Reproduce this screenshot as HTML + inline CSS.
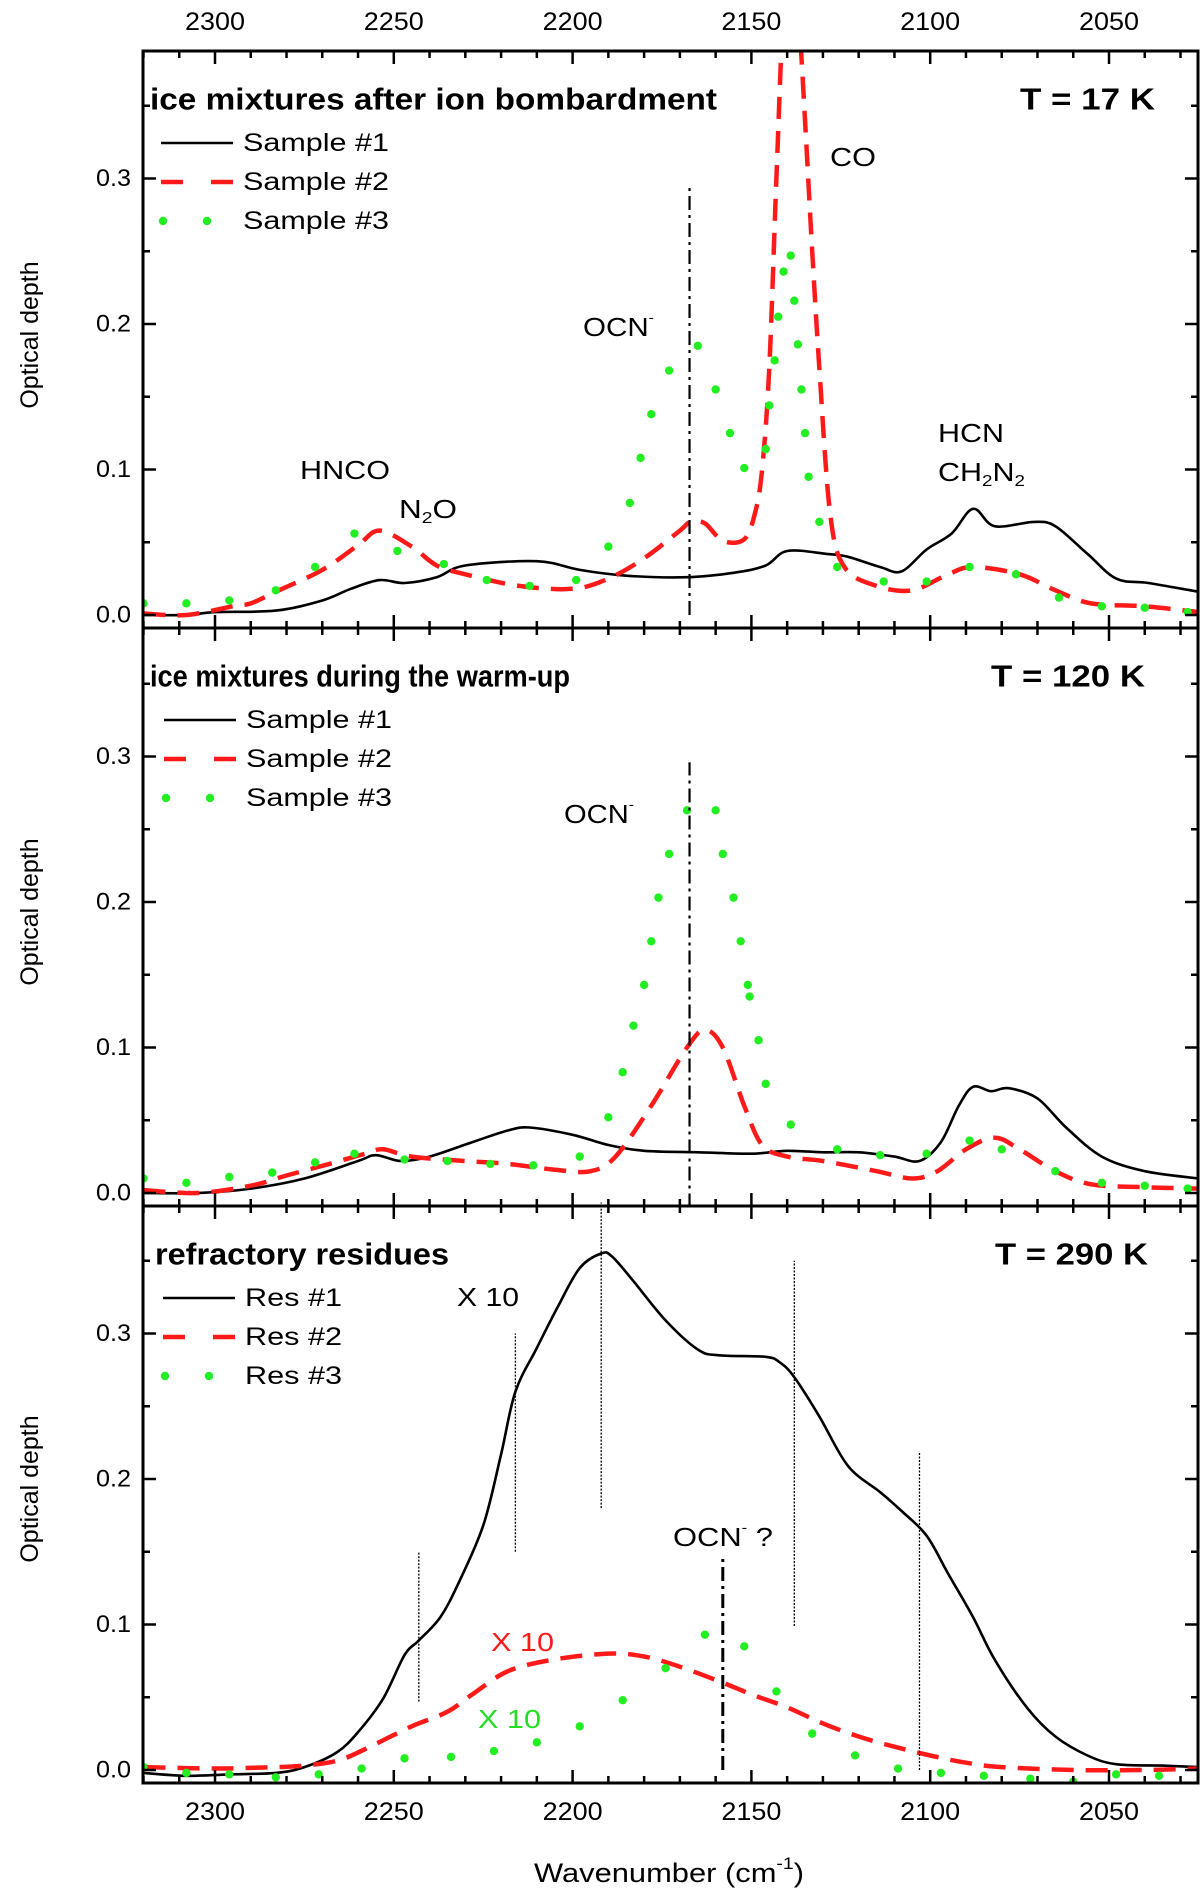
<!DOCTYPE html>
<html><head><meta charset="utf-8"><style>
html,body{margin:0;padding:0;background:#fff;}
svg{display:block;font-family:"Liberation Sans",Arial,sans-serif;}
</style></head><body>
<svg id="chart" width="1200" height="1891" viewBox="0 0 1200 1891" xmlns="http://www.w3.org/2000/svg"></svg>
<script>
// ---------- data ----------
const xTicks = [2300, 2250, 2200, 2150, 2100, 2050];
const yTicks = [0.0, 0.1, 0.2, 0.3];
const panelTitles = ["ice mixtures after ion bombardment", "ice mixtures during the warm-up", "refractory residues"];
const panelTemps = ["T = 17 K", "T = 120 K", "T = 290 K"];
const legendLabels1 = ["Sample #1", "Sample #2", "Sample #3"];
const legendLabels3 = ["Res #1", "Res #2", "Res #3"];

// Panel 1
const p1s1W = [2320,2308,2300,2283,2270,2262,2254,2247,2238,2230,2210,2198,2185,2168,2155,2146,2140,2129,2123,2114,2108,2101,2094,2088,2082,2071,2065,2056,2048,2039,2025];
const p1s1V = [0.0,0.0,0.002,0.003,0.01,0.018,0.024,0.022,0.026,0.034,0.037,0.031,0.027,0.026,0.029,0.034,0.044,0.042,0.040,0.033,0.030,0.045,0.056,0.073,0.061,0.064,0.061,0.042,0.025,0.022,0.016];
const p1s2W = [2320,2308,2295,2290,2283,2270,2260,2254,2245,2238,2230,2215,2200,2190,2180,2170,2167,2163,2158,2152,2149,2147,2145,2143,2141,2139,2137,2135,2133,2131,2128,2124,2115,2105,2095,2088,2075,2065,2055,2040,2025];
const p1s2V = [0.001,0.0,0.006,0.008,0.016,0.031,0.048,0.058,0.047,0.034,0.028,0.020,0.018,0.025,0.039,0.058,0.064,0.063,0.051,0.052,0.07,0.10,0.17,0.30,0.42,0.46,0.42,0.34,0.25,0.17,0.07,0.033,0.020,0.017,0.028,0.033,0.028,0.017,0.008,0.006,0.002];
const p1s3W = [2320,2308,2296,2283,2272,2261,2249,2236,2224,2212,2199,2190,2184,2181,2178,2173,2165,2160,2156,2152,2146,2145,2143.5,2142.5,2141,2139,2138,2137,2136,2135,2134,2131,2126,2113,2101,2089,2076,2064,2052,2040,2028];
const p1s3V = [0.008,0.008,0.010,0.017,0.033,0.056,0.044,0.035,0.024,0.020,0.024,0.047,0.077,0.108,0.138,0.168,0.185,0.155,0.125,0.101,0.114,0.144,0.175,0.205,0.236,0.247,0.216,0.186,0.155,0.125,0.095,0.064,0.033,0.023,0.023,0.033,0.028,0.012,0.006,0.005,0.002];

// Panel 2
const p2s1W = [2320,2305,2290,2275,2260,2255,2248,2240,2228,2218,2212,2200,2190,2180,2165,2150,2140,2130,2120,2110,2103,2097,2092,2088,2083,2078,2070,2062,2052,2040,2025];
const p2s1V = [0.0,0.0,0.003,0.01,0.022,0.026,0.022,0.025,0.035,0.043,0.045,0.040,0.033,0.029,0.028,0.027,0.029,0.028,0.028,0.025,0.022,0.035,0.060,0.073,0.070,0.072,0.065,0.045,0.025,0.015,0.010];
const p2s2W = [2320,2305,2290,2280,2268,2258,2253,2245,2230,2218,2205,2195,2188,2178,2168,2163,2158,2152,2147,2140,2130,2115,2105,2098,2090,2082,2075,2065,2055,2040,2025];
const p2s2V = [0.002,0.0,0.005,0.012,0.020,0.027,0.030,0.025,0.022,0.020,0.016,0.015,0.025,0.060,0.100,0.112,0.100,0.060,0.033,0.025,0.022,0.015,0.010,0.015,0.030,0.038,0.030,0.015,0.006,0.004,0.003];
const p2s3W = [2320,2308,2296,2284,2272,2261,2247,2235,2223,2211,2198,2190,2186,2183,2180,2178,2176,2173,2168,2160,2158,2155,2153,2151,2150.5,2148,2146,2139,2126,2114,2101,2089,2080,2065,2052,2040,2028];
const p2s3V = [0.010,0.007,0.011,0.014,0.021,0.027,0.023,0.022,0.020,0.019,0.025,0.052,0.083,0.115,0.143,0.173,0.203,0.233,0.263,0.263,0.233,0.203,0.173,0.143,0.135,0.105,0.075,0.047,0.030,0.026,0.027,0.036,0.030,0.015,0.007,0.005,0.003];

// Panel 3
const p3s1W = [2320,2308,2296,2283,2275,2266,2260,2253,2247,2243,2237,2232,2225,2220,2216,2210,2204,2198,2192,2189,2183,2174,2165,2159,2146,2142,2138,2131,2123,2114,2108,2101,2095,2088,2082,2073,2065,2056,2048,2035,2025];
const p3s1V = [-0.002,-0.004,-0.003,-0.002,0.002,0.012,0.026,0.049,0.079,0.089,0.105,0.128,0.168,0.217,0.26,0.29,0.319,0.345,0.355,0.353,0.336,0.309,0.289,0.285,0.284,0.28,0.27,0.243,0.209,0.191,0.178,0.161,0.135,0.105,0.076,0.043,0.023,0.010,0.004,0.003,0.002];
const p3s2W = [2320,2300,2283,2275,2265,2255,2245,2235,2228,2218,2205,2190,2180,2170,2158,2150,2140,2130,2120,2110,2100,2090,2080,2060,2040,2025];
const p3s2V = [0.002,0.001,0.002,0.003,0.007,0.018,0.030,0.040,0.052,0.068,0.076,0.080,0.078,0.071,0.060,0.052,0.043,0.032,0.023,0.016,0.010,0.005,0.002,0.0,0.0,0.001];
const p3s3W = [2320,2308,2296,2283,2271,2259,2247,2234,2222,2210,2198,2186,2174,2163,2152,2143,2133,2121,2109,2097,2085,2072,2060,2048,2036];
const p3s3V = [0.002,-0.002,-0.003,-0.005,-0.003,0.001,0.008,0.009,0.013,0.019,0.030,0.048,0.070,0.093,0.085,0.054,0.025,0.010,0.001,-0.002,-0.004,-0.006,-0.008,-0.003,-0.004];

// reference markers
const ocnW = [2167.3, 2167.3, 2158];
const ocnTop = [0.296, 0.296, 0.148];
const dotLineW = [2243, 2216, 2192, 2138, 2103];
const dotLineLo = [0.047, 0.15, 0.18, 0.099, 0.0];
const dotLineHi = [0.15, 0.30, 0.39, 0.35, 0.219];

// ---------- layout ----------
const NS = "http://www.w3.org/2000/svg";
const svg = document.getElementById("chart");
const L = 143, R = 1198;
const panelTop = [51, 628, 1206];
const panelBot = [628, 1206, 1783];
const PXV = 1455;
function xs(w){ return 215 + (2300 - w) * 3.576; }
function ys(v, p){ return (panelBot[p] - 13) - v * PXV; }
function mk(tag, attrs, parent){
  const e = document.createElementNS(NS, tag);
  for (const k in attrs) e.setAttribute(k, attrs[k]);
  (parent || svg).appendChild(e);
  return e;
}
function txt(str, x, y, size, opts, parent){
  const o = opts || {};
  const e = mk("text", {x:x, y:y, "font-size":size, "dominant-baseline":"central", fill:o.fill||"#000"}, parent);
  if (o.anchor) e.setAttribute("text-anchor", o.anchor);
  if (o.bold) e.setAttribute("font-weight", "bold");
  if (o.len) { e.setAttribute("textLength", o.len); e.setAttribute("lengthAdjust", "spacingAndGlyphs"); }
  e.textContent = str;
  return e;
}

const defs = mk("defs", {});
for (let p = 0; p < 3; p++) {
  const cp = mk("clipPath", {id:"clip" + p}, defs);
  mk("rect", {x:L, y:panelTop[p], width:R-L, height:panelBot[p]-panelTop[p]}, cp);
}

function smoothPath(pts){
  let d = "M" + pts[0][0].toFixed(1) + "," + pts[0][1].toFixed(1);
  for (let i = 0; i < pts.length - 1; i++) {
    const p0 = pts[i-1] || pts[i], p1 = pts[i], p2 = pts[i+1], p3 = pts[i+2] || p2;
    const t = 6;
    const c1 = [p1[0] + (p2[0]-p0[0])/t, p1[1] + (p2[1]-p0[1])/t];
    const c2 = [p2[0] - (p3[0]-p1[0])/t, p2[1] - (p3[1]-p1[1])/t];
    d += "C" + c1[0].toFixed(1) + "," + c1[1].toFixed(1) + " " + c2[0].toFixed(1) + "," + c2[1].toFixed(1) + " " + p2[0].toFixed(1) + "," + p2[1].toFixed(1);
  }
  return d;
}
function drawLine(W, V, p, style, name){
  const pts = [];
  for (let i = 0; i < W.length; i++) pts.push([xs(W[i]), ys(V[i], p)]);
  const e = mk("path", {d:smoothPath(pts), fill:"none", stroke:style.stroke, "stroke-width":style.w, "stroke-linejoin":"round", "clip-path":"url(#clip"+p+")"});
  if (style.dash) e.setAttribute("stroke-dasharray", style.dash);
  
  
  return e;
}
function drawDots(W, V, p, name){
  const g = mk("g", {fill:"#22ee22", "clip-path":"url(#clip"+p+")"});
  
  
  for (let i = 0; i < W.length; i++) {
    const c = mk("circle", {cx:xs(W[i]), cy:ys(V[i], p), r:4.2}, g);
    
    
  }
}
const solid = {stroke:"#000", w:2.6};
const dashed = {stroke:"#ff1a1a", w:4.5, dash:"22 12"};

drawLine(p1s1W, p1s1V, 0, solid, "sample-1-line-17k");
drawLine(p1s2W, p1s2V, 0, dashed, "sample-2-line-17k");
drawDots(p1s3W, p1s3V, 0, "sample-3-dots-17k");
drawLine(p2s1W, p2s1V, 1, solid, "sample-1-line-120k");
drawLine(p2s2W, p2s2V, 1, dashed, "sample-2-line-120k");
drawDots(p2s3W, p2s3V, 1, "sample-3-dots-120k");
drawLine(p3s1W, p3s1V, 2, solid, "res-1-line-290k");
drawLine(p3s2W, p3s2V, 2, dashed, "res-2-line-290k");
drawDots(p3s3W, p3s3V, 2, "res-3-dots-290k");

for (let p = 0; p < 3; p++) {
  const lo = p === 1 ? -0.01 : 0.0;
  const e = mk("line", {x1:xs(ocnW[p]), x2:xs(ocnW[p]), y1:ys(lo, p), y2:ys(ocnTop[p], p), stroke:"#000", "stroke-width": p===2?3:2.2, "stroke-dasharray":"14 5 3 5"});
  
  
}
for (let i = 0; i < dotLineW.length; i++) {
  const e = mk("line", {x1:xs(dotLineW[i]), x2:xs(dotLineW[i]), y1:ys(dotLineLo[i], 2), y2:ys(dotLineHi[i], 2), stroke:"#000", "stroke-width":1.3, "stroke-dasharray":"2 1.5"});
  
  
}

const axes = mk("g", {stroke:"#000", fill:"none"});


for (let p = 0; p < 3; p++) {
  const fr = mk("rect", {x:L, y:panelTop[p], width:R-L, height:panelBot[p]-panelTop[p], "stroke-width":3}, axes);
  
  
  for (let w = 2320; w >= 2026; w -= 10) {
    const x = xs(w), major = (w % 50 === 0);
    const len = major ? 13 : 7;
    mk("line", {x1:x, x2:x, y1:panelTop[p], y2:panelTop[p]+len, "stroke-width":2.5}, axes);
    mk("line", {x1:x, x2:x, y1:panelBot[p], y2:panelBot[p]-len, "stroke-width":2.5}, axes);
  }
  for (let k = 0; k <= 7; k++) {
    const v = k * 0.05, y = ys(v, p);
    if (y < panelTop[p] + 2) continue;
    const len = (k % 2 === 0) ? 13 : 7;
    mk("line", {x1:L, x2:L+len, y1:y, y2:y, "stroke-width":2.5}, axes);
    mk("line", {x1:R, x2:R-len, y1:y, y2:y, "stroke-width":2.5}, axes);
  }
}

for (let i = 0; i < xTicks.length; i++) {
  const t1 = txt(String(xTicks[i]), xs(xTicks[i]), 22, 25, {anchor:"middle", len:60});
  
  
  const t2 = txt(String(xTicks[i]), xs(xTicks[i]), 1812, 25, {anchor:"middle", len:60});
  
  
}
for (let p = 0; p < 3; p++) {
  for (let i = 0; i < yTicks.length; i++) {
    const t = txt(yTicks[i].toFixed(1), 131, ys(yTicks[i], p), 24, {anchor:"end", len:35});
    
    
  }
  const yc = [335, 912, 1489][p];
  const yt = txt("Optical depth", 0, 0, 25, {anchor:"middle"});
  yt.setAttribute("transform", "translate(30," + yc + ") rotate(-90)");
  
  
}
const xt = mk("text", {x:669, y:1873, "font-size":27, "text-anchor":"middle", "dominant-baseline":"central", textLength:270, lengthAdjust:"spacingAndGlyphs"});
xt.innerHTML = 'Wavenumber (cm<tspan dy="-10" font-size="17">-1</tspan><tspan dy="10">)</tspan>';



const titleLens = [567, 420, 294];
const titleX = [150, 150, 155];
const tempX = [1020, 991, 995];
const tempLens = [135, 154, 153];
for (let p = 0; p < 3; p++) {
  const yT = panelTop[p] + 48;
  const t = txt(panelTitles[p], titleX[p], yT, 31, {bold:true, len:titleLens[p]});
  
  
  const tt = txt(panelTemps[p], tempX[p], yT, 31, {bold:true, len:tempLens[p]});
  
  
}

for (let p = 0; p < 3; p++) {
  const labels = p === 2 ? legendLabels3 : legendLabels1;
  const g = mk("g", {});
  
  
  const x0 = p === 0 ? 161 : (p === 1 ? 164 : 163);
  for (let i = 0; i < 3; i++) {
    const y = panelTop[p] + 92 + i * 39;
    if (i === 0) mk("line", {x1:x0, x2:x0+72, y1:y, y2:y, stroke:"#000", "stroke-width":2.6}, g);
    if (i === 1) { mk("line", {x1:x0, x2:x0+72, y1:y, y2:y, stroke:"#ff1a1a", "stroke-width":4.5, "stroke-dasharray":"22 28"}, g); }
    if (i === 2) { mk("circle", {cx:x0+2, cy:y, r:4.2, fill:"#22ee22"}, g); mk("circle", {cx:x0+46, cy:y, r:4.2, fill:"#22ee22"}, g); }
    const t = txt(labels[i], x0+82, y, 25, {len: p === 2 ? 97 : 146}, g);
    
    
  }
}

function ann(html, x, y, size, fill, len, name){
  const e = mk("text", {x:x, y:y, "font-size":size, "dominant-baseline":"central", fill:fill});
  if (len) { e.setAttribute("textLength", len); e.setAttribute("lengthAdjust", "spacingAndGlyphs"); }
  e.innerHTML = html;
  
  
  return e;
}
ann("CO", 830, 157, 26, "#000", 46, "co-label");
ann('OCN<tspan dy="-10" font-size="14">-</tspan>', 583, 327, 26, "#000", 71, "ocn-label-17k");
ann("HNCO", 300, 470, 26, "#000", 90, "hnco-label");
ann('N<tspan dy="9" font-size="16">2</tspan><tspan dy="-9">O</tspan>', 399, 509, 26, "#000", 58, "n2o-label");
ann("HCN", 938, 433, 26, "#000", 66, "hcn-label");
ann('CH<tspan dy="9" font-size="16">2</tspan><tspan dy="-9">N</tspan><tspan dy="9" font-size="16">2</tspan>', 938, 472, 26, "#000", 87, "ch2n2-label");
ann('OCN<tspan dy="-10" font-size="14">-</tspan>', 564, 814, 26, "#000", 70, "ocn-label-120k");
ann("X 10", 457, 1297, 26, "#000", 62, "res1-scale-label");
ann('OCN<tspan dy="-10" font-size="14">-</tspan><tspan dy="10"> ?</tspan>', 673, 1537, 26, "#000", 100, "ocn-question-label");
ann("X 10", 491, 1642, 26, "#ff1a1a", 63, "res2-scale-label");
ann("X 10", 478, 1719, 26, "#22dd22", 63, "res3-scale-label");
</script>
</body></html>
